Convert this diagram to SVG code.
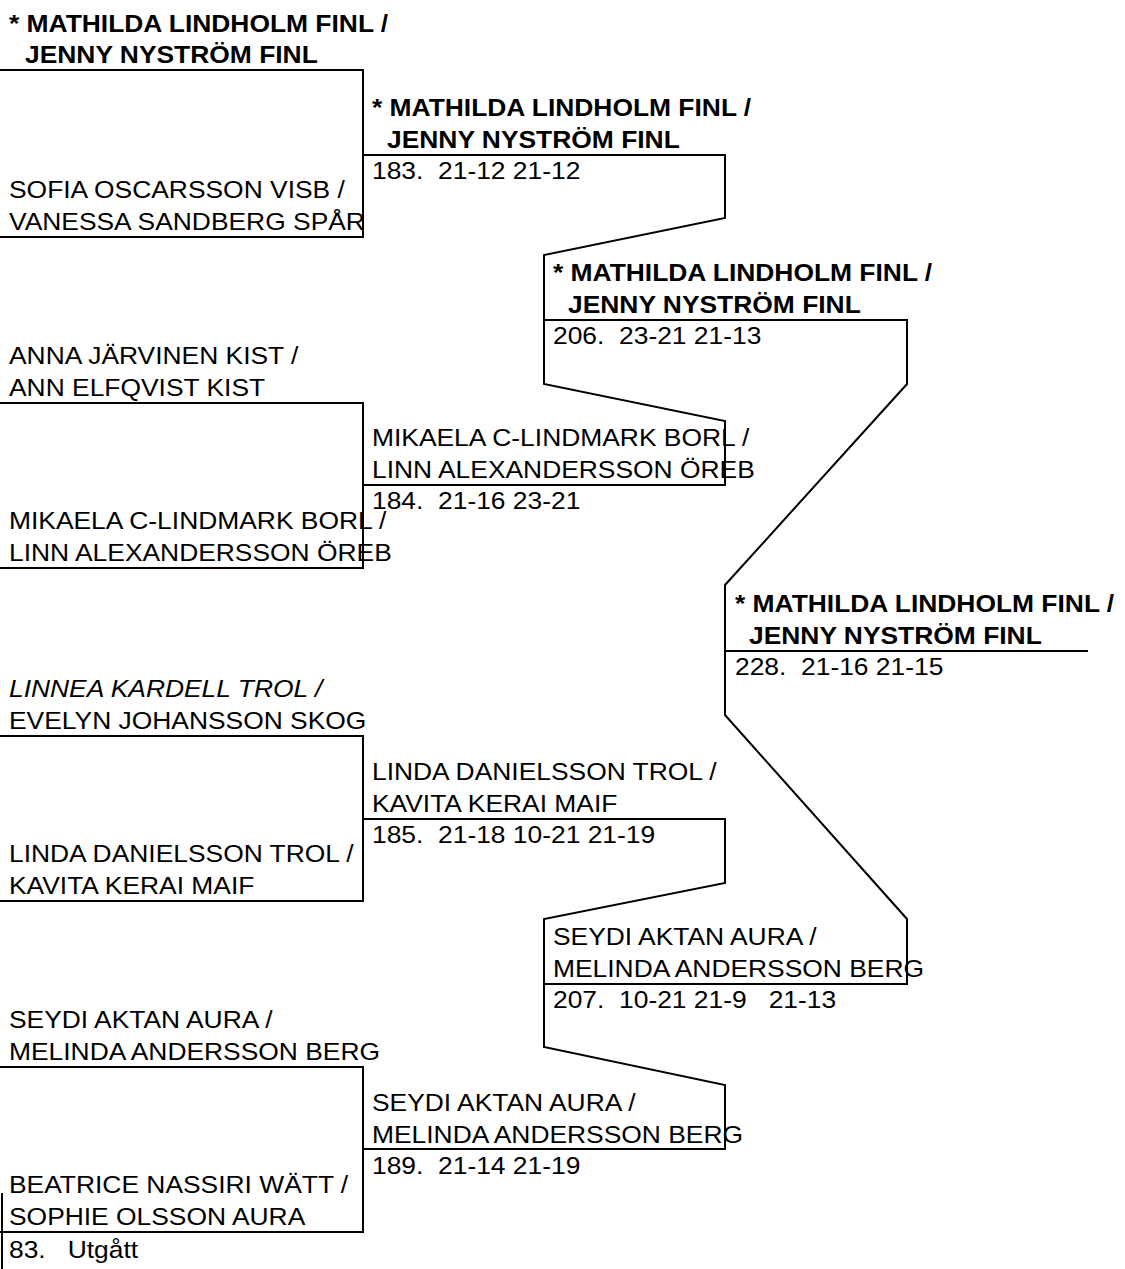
<svg xmlns="http://www.w3.org/2000/svg" width="1125" height="1269" viewBox="0 0 1125 1269">
<style>
text{font-family:"Liberation Sans",Arial,sans-serif;font-size:24px;fill:#000;white-space:pre}
.b{font-weight:bold}
.i{font-style:italic}
.ln{fill:none;stroke:#000;stroke-width:2;stroke-linejoin:miter}
</style>
<rect width="1125" height="1269" fill="#fff"/>
<g id="connectors">
<path class="ln" d="M0,70 H363 V237 H0"/>
<path class="ln" d="M0,403 H363 V568 H0"/>
<path class="ln" d="M0,736 H363 V901 H0"/>
<path class="ln" d="M0,1067 H363 V1232 H0"/>
<path class="ln" d="M2,1193 V1269"/>
<path class="ln" d="M363,155 H725 V218 L544,255 V384 L725,421 V485 H363"/>
<path class="ln" d="M363,819 H725 V883 L544,919 V1047 L725,1085 V1149 H363"/>
<path class="ln" d="M544,320 H907 V384 L725,585 V715 L907,919 V984 H544"/>
<path class="ln" d="M725,651 H1088"/>
</g>
<g id="r1m1">
<text class="b" transform="translate(9,32) scale(1.1 1)">* MATHILDA LINDHOLM FINL /</text>
<text class="b" transform="translate(25,63) scale(1.1 1)">JENNY NYSTRÖM FINL</text>
<text transform="translate(9,198) scale(1.1 1)">SOFIA OSCARSSON VISB /</text>
<text transform="translate(9,230) scale(1.1 1)">VANESSA SANDBERG SPÅR</text>
</g>
<g id="r1m2">
<text transform="translate(9,364) scale(1.1 1)">ANNA JÄRVINEN KIST /</text>
<text transform="translate(9,396) scale(1.1 1)">ANN ELFQVIST KIST</text>
<text transform="translate(9,529) scale(1.1 1)">MIKAELA C-LINDMARK BORL /</text>
<text transform="translate(9,561) scale(1.1 1)">LINN ALEXANDERSSON ÖREB</text>
</g>
<g id="r1m3">
<text class="i" transform="translate(9,697) scale(1.1 1)">LINNEA KARDELL TROL /</text>
<text transform="translate(9,729) scale(1.1 1)">EVELYN JOHANSSON SKOG</text>
<text transform="translate(9,862) scale(1.1 1)">LINDA DANIELSSON TROL /</text>
<text transform="translate(9,894) scale(1.1 1)">KAVITA KERAI MAIF</text>
</g>
<g id="r1m4">
<text transform="translate(9,1028) scale(1.1 1)">SEYDI AKTAN AURA /</text>
<text transform="translate(9,1060) scale(1.1 1)">MELINDA ANDERSSON BERG</text>
<text transform="translate(9,1193) scale(1.1 1)">BEATRICE NASSIRI WÄTT /</text>
<text transform="translate(9,1225) scale(1.1 1)">SOPHIE OLSSON AURA</text>
<text transform="translate(9,1258) scale(1.1 1)">83.   Utgått</text>
</g>
<g id="m183">
<text class="b" transform="translate(372,116) scale(1.1 1)">* MATHILDA LINDHOLM FINL /</text>
<text class="b" transform="translate(387,148) scale(1.1 1)">JENNY NYSTRÖM FINL</text>
<text transform="translate(372,179) scale(1.1 1)">183.  21-12 21-12</text>
</g>
<g id="m184">
<text transform="translate(372,446) scale(1.1 1)">MIKAELA C-LINDMARK BORL /</text>
<text transform="translate(372,478) scale(1.1 1)">LINN ALEXANDERSSON ÖREB</text>
<text transform="translate(372,509) scale(1.1 1)">184.  21-16 23-21</text>
</g>
<g id="m185">
<text transform="translate(372,780) scale(1.1 1)">LINDA DANIELSSON TROL /</text>
<text transform="translate(372,812) scale(1.1 1)">KAVITA KERAI MAIF</text>
<text transform="translate(372,843) scale(1.1 1)">185.  21-18 10-21 21-19</text>
</g>
<g id="m189">
<text transform="translate(372,1111) scale(1.1 1)">SEYDI AKTAN AURA /</text>
<text transform="translate(372,1143) scale(1.1 1)">MELINDA ANDERSSON BERG</text>
<text transform="translate(372,1174) scale(1.1 1)">189.  21-14 21-19</text>
</g>
<g id="m206">
<text class="b" transform="translate(553,281) scale(1.1 1)">* MATHILDA LINDHOLM FINL /</text>
<text class="b" transform="translate(568,313) scale(1.1 1)">JENNY NYSTRÖM FINL</text>
<text transform="translate(553,344) scale(1.1 1)">206.  23-21 21-13</text>
</g>
<g id="m207">
<text transform="translate(553,945) scale(1.1 1)">SEYDI AKTAN AURA /</text>
<text transform="translate(553,977) scale(1.1 1)">MELINDA ANDERSSON BERG</text>
<text transform="translate(553,1008) scale(1.1 1)">207.  10-21 21-9   21-13</text>
</g>
<g id="m228">
<text class="b" transform="translate(735,612) scale(1.1 1)">* MATHILDA LINDHOLM FINL /</text>
<text class="b" transform="translate(749,644) scale(1.1 1)">JENNY NYSTRÖM FINL</text>
<text transform="translate(735,675) scale(1.1 1)">228.  21-16 21-15</text>
</g>
</svg>
